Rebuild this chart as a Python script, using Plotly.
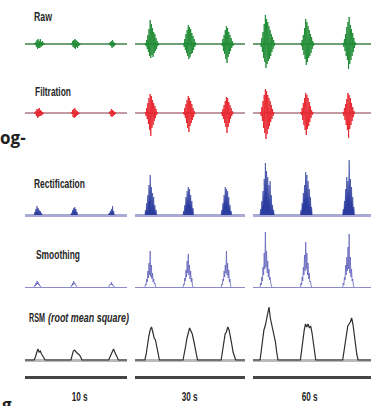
import json
import plotly.graph_objects as go

# ---------------- data ----------------
WINDOWS_S = [10, 30, 60]
COLUMN_LABELS = ["10 s", "30 s", "60 s"]
ROW_LABELS = ["Raw", "Filtration", "Rectification", "Smoothing", "RSM"]
RSM_NOTE = "(root mean square)"
BURST_ONSETS_S = [[0.9, 4.5, 8.2], [2.7, 13.1, 23.5], [3.6, 24.1, 45.6]]
SAMPLE_PERIOD_S = [0.055, 0.16, 0.3]
RMS_PERIOD_S = [0.12, 0.36, 0.65]

RAW = [
    [[0, 0.5, -1, 2, -3, 4, -5, 5, -4, 3, -4, 5, -3, 2, -2, 3, -1, 1, -1, 0],
     [0, 0.5, -1, 3, -3, 4, -4, 5, -5, 4, -3, 3, -4, 2, -2, 1, -1, 0],
     [0, 0.5, -1, 2, -2, 3, -4, 4, -3, 2, -2, 1, -1, 0]],
    [[0, 1, -2, 4, -5, 9, -8, 15, -12, 24, -14, 20, -11, 16, -13, 12, -9, 10, -7, 6, -5, 3, -2, 1, 0],
     [0, 1, -3, 5, -6, 10, -9, 14, -12, 19, -15, 17, -13, 15, -10, 11, -9, 8, -6, 5, -3, 2, -1, 0],
     [0, 1, -2, 5, -7, 9, -10, 14, -15, 18, -19, 16, -13, 12, -10, 9, -7, 6, -4, 3, -2, 1, 0]],
    [[0, 1, -3, 6, -8, 12, -14, 20, -18, 29, -24, 25, -20, 22, -17, 18, -15, 14, -12, 10, -8, 7, -5, 4, -2, 1, 0],
     [0, 1, -2, 4, -6, 9, -11, 16, -15, 25, -21, 22, -18, 18, -14, 14, -12, 10, -9, 7, -5, 3, -2, 1, 0],
     [0, 1, -3, 5, -7, 10, -12, 17, -16, 22, -25, 27, -20, 19, -16, 15, -12, 11, -8, 6, -4, 2, -1, 0]],
]

FILTERED = [
    [[0, 0.5, -1, 2, -3, 4, -5, 4, -4, 5, -3, 3, -3, 2, -2, 1, -1, 0],
     [0, 0.5, -1, 3, -4, 4, -5, 5, -4, 3, -3, 2, -2, 1, -1, 0],
     [0, 0.5, -1, 2, -3, 4, -4, 3, -3, 2, -2, 1, -1, 0]],
    [[0, 1, -3, 5, -6, 10, -11, 15, -17, 19, -23, 17, -15, 13, -12, 10, -8, 7, -5, 4, -2, 1, 0],
     [0, 1, -2, 5, -5, 9, -10, 13, -15, 17, -19, 15, -13, 12, -10, 9, -7, 5, -4, 2, -1, 0],
     [0, 1, -3, 4, -6, 8, -10, 12, -14, 16, -20, 15, -14, 11, -10, 8, -6, 5, -3, 2, -1, 0]],
    [[0, 1, -3, 6, -8, 12, -15, 18, -20, 24, -26, 22, -21, 18, -16, 15, -13, 12, -9, 8, -6, 4, -3, 1, 0],
     [0, 1, -2, 5, -7, 10, -12, 15, -17, 20, -22, 18, -16, 15, -13, 11, -9, 7, -5, 3, -2, 1, 0],
     [0, 1, -3, 5, -7, 9, -12, 14, -17, 20, -25, 18, -16, 15, -12, 10, -8, 6, -4, 2, -1, 0]],
]

RECTIFIED = [
    [[0, 3, 1, 6, 2, 9, 3, 7, 2, 5, 1, 4, 1, 2, 0],
     [0, 2, 1, 5, 2, 7, 3, 8, 2, 6, 1, 3, 0],
     [0, 2, 1, 4, 1, 6, 2, 9, 1, 4, 0]],
    [[0, 5, 2, 12, 4, 20, 8, 30, 10, 40, 12, 28, 6, 22, 5, 18, 3, 10, 2, 5, 0],
     [0, 4, 2, 10, 5, 18, 8, 24, 10, 28, 9, 26, 7, 20, 5, 14, 3, 7, 0],
     [0, 5, 2, 12, 6, 20, 9, 28, 10, 26, 8, 24, 6, 18, 4, 10, 2, 4, 0]],
    [[0, 6, 3, 14, 6, 24, 10, 36, 14, 52, 16, 44, 12, 38, 10, 30, 8, 34, 6, 20, 4, 10, 2, 5, 0],
     [0, 5, 2, 12, 6, 22, 10, 30, 12, 43, 14, 40, 11, 34, 9, 26, 7, 18, 4, 8, 0],
     [0, 6, 3, 14, 8, 26, 12, 38, 14, 34, 16, 55, 12, 36, 10, 28, 7, 18, 4, 8, 0]],
]

SMOOTHED = [
    [[0, 2, 1, 4, 2, 6, 3, 5, 2, 3, 1, 1, 0],
     [0, 2, 1, 4, 2, 6, 3, 4, 2, 2, 1, 0],
     [0, 1, 1, 3, 2, 5, 2, 3, 1, 1, 0]],
    [[0, 3, 2, 8, 5, 16, 9, 24, 12, 36, 10, 22, 8, 14, 5, 8, 3, 4, 1, 0],
     [0, 3, 2, 9, 6, 17, 10, 26, 14, 33, 12, 22, 8, 16, 5, 9, 2, 0],
     [0, 3, 2, 8, 6, 16, 10, 22, 14, 36, 12, 24, 9, 17, 5, 8, 2, 0]],
    [[0, 4, 2, 10, 6, 20, 12, 34, 18, 55, 20, 36, 14, 26, 10, 18, 7, 10, 4, 2, 0],
     [0, 4, 2, 10, 6, 20, 12, 32, 16, 45, 18, 34, 12, 24, 8, 14, 5, 6, 2, 0],
     [0, 4, 2, 10, 7, 22, 12, 30, 16, 40, 18, 53, 14, 30, 10, 18, 6, 8, 2, 0]],
]

RMS = [
    [[0, 3, 8, 11, 8, 9, 6, 4, 3, 0],
     [0, 4, 9, 10, 8, 7, 6, 5, 3, 0],
     [0, 3, 6, 9, 11, 8, 5, 3, 0]],
    [[0, 6, 16, 24, 30, 33, 28, 22, 20, 14, 8, 0],
     [0, 6, 14, 22, 28, 32, 29, 26, 20, 12, 5, 0],
     [0, 8, 18, 26, 28, 33, 30, 24, 16, 8, 3, 0]],
    [[0, 10, 22, 30, 34, 40, 48, 53, 42, 36, 30, 24, 18, 8, 0],
     [0, 8, 20, 30, 36, 33, 36, 32, 34, 28, 18, 8, 0],
     [0, 8, 18, 28, 34, 36, 38, 42, 36, 26, 14, 6, 0]],
]

# ---------------- layout helpers ----------------
W, H = 378, 406
COL_PX = [(25, 127), (135, 245), (253, 371)]
ROW_PX = [(14, 74), (83, 143), (155, 218), (227, 290), (300, 376)]
ROW_YRANGE = [[-30, 30], [-30, 30], [-3, 60], [-3, 60], [-16, 60]]
ROW_STYLE = [
    dict(color="#1d8a32", width=0.9, fill=None, base="#6e9f76", basew=1.8),
    dict(color="#e8232b", width=0.9, fill=None, base="#c39aa1", basew=1.8),
    dict(color="#2b3d9e", width=0.6, fill="#2b3d9e", base="#a9a9d6", basew=3.2),
    dict(color="#6565bd", width=0.8, fill=None, base="#8b8bc6", basew=1.4),
    dict(color="#2e2e2e", width=1.2, fill=None, base="#b9b9b9", basew=3.0),
]
SERIES = [RAW, FILTERED, RECTIFIED, SMOOTHED, RMS]
FONT = "Liberation Sans, Arial, sans-serif"


def px_x(x):
    return x / W


def px_y(y):
    return 1 - y / H


def build_xy(onsets, bursts, dt, window, continuous):
    xs, ys = [], []
    if continuous:
        xs.append(0)
        ys.append(0)
    for on, b in zip(onsets, bursts):
        xs += [on + i * dt for i in range(len(b))]
        ys += list(b)
        if not continuous:
            xs.append(None)
            ys.append(None)
    if continuous:
        xs.append(window)
        ys.append(0)
    return xs, ys


fig = go.Figure()
layout = {}
for r in range(5):
    for c in range(3):
        n = r * 3 + c + 1
        xa = "x" if n == 1 else f"x{n}"
        ya = "y" if n == 1 else f"y{n}"
        st = ROW_STYLE[r]
        dt = RMS_PERIOD_S[c] if r == 4 else SAMPLE_PERIOD_S[c]
        xs, ys = build_xy(BURST_ONSETS_S[c], SERIES[r][c], dt, WINDOWS_S[c], r == 4)
        fig.add_trace(go.Scatter(
            x=xs, y=ys, mode="lines", xaxis=xa, yaxis=ya,
            line=dict(color=st["color"], width=st["width"]),
            fill="tozeroy" if st["fill"] else None,
            fillcolor=st["fill"], hoverinfo="skip", showlegend=False))
        kx = "xaxis" if n == 1 else f"xaxis{n}"
        ky = "yaxis" if n == 1 else f"yaxis{n}"
        layout[kx] = dict(
            domain=[px_x(COL_PX[c][0]), px_x(COL_PX[c][1])],
            range=[0, WINDOWS_S[c]], anchor=ya,
            showgrid=False, zeroline=False, showticklabels=False, ticks="",
            showline=(r == 4), linecolor="#444444", linewidth=3)
        layout[ky] = dict(
            domain=[px_y(ROW_PX[r][1]), px_y(ROW_PX[r][0])],
            range=ROW_YRANGE[r], anchor=xa,
            showgrid=False, showticklabels=False, ticks="", showline=False,
            zeroline=True, zerolinecolor=st["base"], zerolinewidth=st["basew"])

fig.update_layout(**layout)

annotations = []
squeeze = []  # target text widths (px) to imitate the condensed typeface
LABEL_POS = [(32, 17), (33, 92), (32, 184), (34, 255), (27, 318)]
LABEL_W = [18, 36, 51, 44, 16]
for (lx, ly), txt, tw in zip(LABEL_POS, ROW_LABELS, LABEL_W):
    annotations.append(dict(
        text=txt, x=px_x(lx), y=px_y(ly), xref="paper", yref="paper",
        xanchor="left", yanchor="middle", align="left", showarrow=False,
        font=dict(family=FONT, size=12, color="#262626", weight="bold")))
    squeeze.append(tw)
annotations.append(dict(
    text=f"<i>{RSM_NOTE}</i>", x=px_x(46), y=px_y(318), xref="paper", yref="paper",
    xanchor="left", yanchor="middle", align="left", showarrow=False,
    font=dict(family=FONT, size=12, color="#262626", weight="bold")))
squeeze.append(81)
for cx, txt in zip([80, 190, 310], COLUMN_LABELS):
    annotations.append(dict(
        text=txt, x=px_x(cx), y=px_y(397), xref="paper", yref="paper",
        xanchor="center", yanchor="middle", showarrow=False,
        font=dict(family=FONT, size=12, color="#262626", weight="bold")))
    squeeze.append(16)
annotations.append(dict(
    text="og-", x=px_x(28), y=px_y(138), xref="paper", yref="paper",
    xanchor="right", yanchor="middle", showarrow=False,
    font=dict(family="Open Sans, Liberation Sans, sans-serif", size=17,
              color="#1e1e1e", weight="bold")))
squeeze.append(None)
annotations.append(dict(
    text="g", x=px_x(0), y=px_y(404), xref="paper", yref="paper",
    xanchor="left", yanchor="middle", showarrow=False,
    font=dict(family="Open Sans, Liberation Sans, sans-serif", size=17,
              color="#1e1e1e", weight="bold")))
squeeze.append(None)

fig.update_layout(
    width=W, height=H, margin=dict(l=0, r=0, t=0, b=0),
    paper_bgcolor="white", plot_bgcolor="rgba(0,0,0,0)",
    annotations=annotations, showlegend=False)

post = """
document.body.style.margin = '0';
document.body.style.padding = '0';
var tw = %s;
var groups = document.querySelectorAll('g.annotation');
for (var i = 0; i < groups.length && i < tw.length; i++) {
  if (!tw[i]) continue;
  var t = groups[i].querySelector('.annotation-text');
  if (!t) continue;
  var natural = t.getComputedTextLength();
  if (!natural) continue;
  var s = tw[i] / natural;
  var x0 = parseFloat(t.getAttribute('x')) || 0;
  t.setAttribute('transform',
    'translate(' + x0 + ',0) scale(' + s + ',1) translate(' + (-x0) + ',0)');
  var bg = groups[i].querySelector('rect.bg');
  if (bg && t.getAttribute('text-anchor') === 'start') {
    bg.setAttribute('width', tw[i] + 1);
  }
}
""" % json.dumps(squeeze)

fig.write_html("out.html", config={"displayModeBar": False}, post_script=post)
